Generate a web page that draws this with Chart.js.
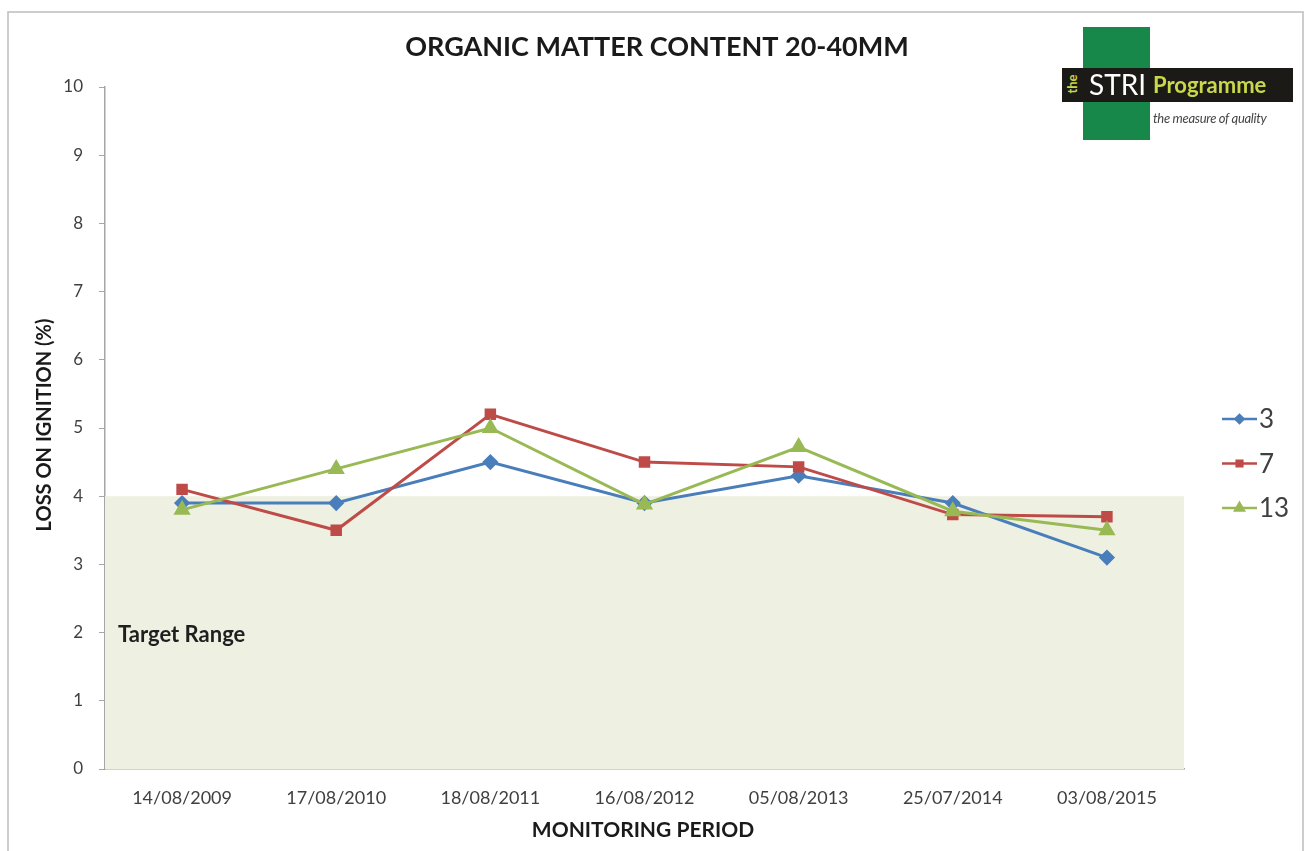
<!DOCTYPE html>
<html>
<head>
  <title>Organic Matter Content 20-40mm</title>
  <meta charset="utf-8">
  <style>
    body { margin: 0; background: #fff; }
    #wrap { position: relative; width: 1308px; height: 851px; }
    #logo { position: absolute; left: 1062px; top: 27px; width: 232px; height: 114px; font-family: Lato, "Open Sans", sans-serif; }
    #logo .green { position: absolute; left: 21px; top: 0; width: 67px; height: 113px; background: #17874a; }
    #logo .band { position: absolute; left: 0; top: 41px; width: 231px; height: 34px; background: #1c1a17; }
    #logo .the { position: absolute; left: 0px; top: 49px; color: #c9d84b; font-weight: bold; font-size: 13px; transform: rotate(-90deg); transform-origin: center; }
    #logo .stri { position: absolute; left: 27px; top: 40px; color: #fff; font-size: 28px; }
    #logo .prog { position: absolute; left: 91px; top: 44px; color: #c9d84b; font-weight: bold; font-size: 22px; }
    #logo .tag { position: absolute; left: 91px; top: 83px; color: #444; font-style: italic; font-size: 13px; letter-spacing: -0.3px; }
  </style>
</head>
<body>
<div id="wrap">
  <canvas id="omChart" width="1308" height="851"></canvas>
  <div id="logo">
    <div class="green"></div>
    <div class="band"></div>
    <div class="the">the</div>
    <div class="stri">STRI</div>
    <div class="prog">Programme</div>
    <div class="tag">the measure of quality</div>
  </div>
</div>
<script src="https://cdn.jsdelivr.net/npm/chart.js"></script>
<script>
    // values
    const periods = ['14/08/2009', '17/08/2010', '18/08/2011', '16/08/2012', '05/08/2013', '25/07/2014', '03/08/2015'];
    const green3 = [3.9, 3.9, 4.5, 3.9, 4.3, 3.9, 3.1];
    const green7 = [4.1, 3.5, 5.2, 4.5, 4.43, 3.73, 3.7];
    const green13 = [3.8, 4.4, 5.0, 3.88, 4.72, 3.78, 3.5];
    const targetMin = 0;
    const targetMax = 4;

    const FONT = 'Lato, "Open Sans", sans-serif';

    // shaded target band + titles + frame + legend
    const decor = {
      id: 'decor',
      beforeDatasetsDraw(chart) {
        const { ctx, chartArea, scales } = chart;
        const yTop = scales.y.getPixelForValue(targetMax);
        const yBot = scales.y.getPixelForValue(targetMin);
        ctx.save();
        ctx.fillStyle = '#eef1e2';
        ctx.fillRect(chartArea.left, yTop, chartArea.right - chartArea.left, yBot - yTop);
        ctx.fillStyle = '#1f1f1f';
        ctx.font = 'bold 22px ' + FONT;
        ctx.textBaseline = 'middle';
        ctx.fillText('Target Range', chartArea.left + 13, scales.y.getPixelForValue(1.97));
        ctx.restore();
      },
      afterDraw(chart) {
        const { ctx } = chart;
        ctx.save();
        // outer frame
        ctx.strokeStyle = '#bdbdbd';
        ctx.lineWidth = 1.5;
        ctx.beginPath();
        ctx.moveTo(8, 851);
        ctx.lineTo(8, 12);
        ctx.lineTo(1303, 12);
        ctx.lineTo(1303, 851);
        ctx.stroke();

        ctx.fillStyle = '#1a1a1a';
        ctx.textAlign = 'center';
        ctx.textBaseline = 'middle';
        ctx.font = 'bold 27px ' + FONT;
        ctx.fillText('ORGANIC MATTER CONTENT 20-40MM', 657, 47);
        ctx.font = 'bold 21px ' + FONT;
        ctx.fillText('MONITORING PERIOD', 643, 830);
        ctx.font = 'bold 20px ' + FONT;
        ctx.translate(45, 425);
        ctx.rotate(-Math.PI / 2);
        ctx.fillText('LOSS ON IGNITION (%)', 0, 0);
        ctx.restore();

        // legend on the right
        ctx.save();
        chart.data.datasets.forEach((ds, i) => {
          const y = 419 + i * 44.5;
          ctx.strokeStyle = ds.borderColor;
          ctx.lineWidth = 2.5;
          ctx.beginPath();
          ctx.moveTo(1222, y);
          ctx.lineTo(1257, y);
          ctx.stroke();
          ctx.fillStyle = ds.backgroundColor;
          Chart.helpers.drawPoint(ctx, {
            pointStyle: ds.pointStyle, radius: ds.pointRadius - 2, borderWidth: 1
          }, 1239.5, y);
          ctx.fillStyle = '#404040';
          ctx.font = '26px ' + FONT;
          ctx.textAlign = 'left';
          ctx.textBaseline = 'middle';
          ctx.fillText(ds.label, 1259, y + 1);
        });
        ctx.restore();
      }
    };

    new Chart(document.getElementById('omChart').getContext('2d'), {
      type: 'line',
      data: {
        labels: periods,
        datasets: [
          { label: '3', data: green3, borderColor: '#4a7ebb', backgroundColor: '#4a7ebb',
            pointStyle: 'rectRot', pointRadius: 6, borderWidth: 3, order: 2 },
          { label: '7', data: green7, borderColor: '#be4b48', backgroundColor: '#be4b48',
            pointStyle: 'rect', pointRadius: 6, borderWidth: 3, order: 1 },
          { label: '13', data: green13, borderColor: '#98b954', backgroundColor: '#98b954',
            pointStyle: 'triangle', pointRadius: 7, borderWidth: 3, order: 0 }
        ]
      },
      options: {
        responsive: false,
        animation: false,
        layout: { padding: { left: 0, top: 87, right: 124, bottom: 0 } },
        plugins: {
          legend: { display: false },
          title: { display: false },
          tooltip: { enabled: false }
        },
        scales: {
          x: {
            offset: true,
            afterFit: s => { s.height = 82; },
            grid: { display: false, drawTicks: false },
            border: { display: true, color: '#a6a6a6', width: 1.5 },
            ticks: { color: '#404040', font: { family: FONT, size: 18 }, padding: 18, maxRotation: 0 }
          },
          y: {
            min: 0,
            max: 10,
            afterFit: s => { s.width = 105; },
            grid: { drawOnChartArea: false, tickLength: 6, color: '#a6a6a6' },
            border: { color: '#a6a6a6', width: 1.5 },
            ticks: { stepSize: 1, color: '#404040', font: { family: FONT, size: 17 }, padding: 16 }
          }
        }
      },
      plugins: [decor]
    });
</script>
</body>
</html>
